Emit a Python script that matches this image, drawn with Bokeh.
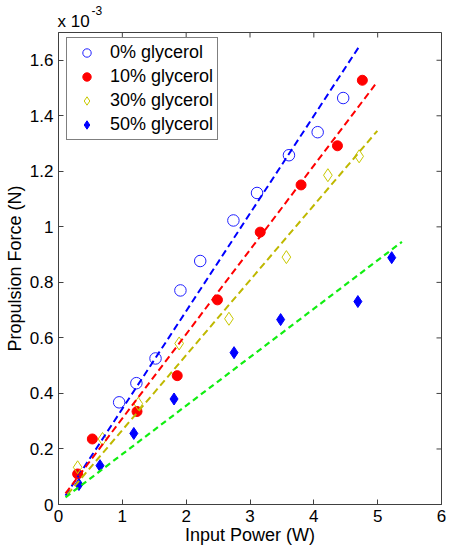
import math
from bokeh.plotting import figure
from bokeh.models import (Range1d, FixedTicker, CustomJSTickFormatter,
                          Legend, LegendItem, Title)
from bokeh.embed import file_html
from bokeh.resources import INLINE

# ---- data (force values in units of 1e-3 N) ----
power_0 = [0.95, 1.22, 1.52, 1.91, 2.22, 2.74, 3.11, 3.61, 4.06, 4.46]
force_0 = [0.368, 0.437, 0.526, 0.771, 0.877, 1.023, 1.122, 1.258, 1.341, 1.464]

power_10 = [0.30, 0.53, 1.23, 1.86, 2.49, 3.16, 3.80, 4.37, 4.76]
force_10 = [0.110, 0.236, 0.335, 0.464, 0.737, 0.981, 1.151, 1.292, 1.528]

power_30 = [0.30, 0.69, 1.25, 1.89, 2.67, 3.57, 4.22, 4.71]
force_30 = [0.134, 0.236, 0.363, 0.580, 0.669, 0.891, 1.186, 1.254]

power_50 = [0.32, 0.65, 1.18, 1.81, 2.75, 3.48, 4.69, 5.22]
force_50 = [0.072, 0.140, 0.256, 0.380, 0.547, 0.666, 0.731, 0.889]

# linear fit lines (end points)
fit_0_x = [0.11, 4.70]
fit_0_y = [0.032, 1.646]
fit_10_x = [0.11, 4.96]
fit_10_y = [0.040, 1.512]
fit_30_x = [0.14, 4.995]
fit_30_y = [0.036, 1.346]
fit_50_x = [0.11, 5.38]
fit_50_y = [0.026, 0.946]

labels = ["0% glycerol", "10% glycerol", "30% glycerol", "50% glycerol"]
x_ticks = [0, 1, 2, 3, 4, 5, 6]
y_ticks = [0, 0.2, 0.4, 0.6, 0.8, 1.0, 1.2, 1.4, 1.6]
x_lim = [0, 6]
y_lim = [0, 1.7]

FONT = "Liberation Sans"
AX = "#404040"

p = figure(width=450, height=550, min_border_left=58, min_border_right=9,
           min_border_top=32, min_border_bottom=46,
           x_range=Range1d(*x_lim), y_range=Range1d(*y_lim),
           output_backend="svg", toolbar_location=None,
           x_axis_label="Input Power (W)", y_axis_label="Propulsion Force (N)")
p.xgrid.visible = False
p.ygrid.visible = False
p.outline_line_color = AX
p.outline_line_width = 1
p.background_fill_color = "white"
p.border_fill_color = "white"

ytick_fmt = CustomJSTickFormatter(code="return tick.toFixed(1).replace(/\\.0$/, '');")


def style(ax, ticks):
    ax.ticker = FixedTicker(ticks=ticks)
    ax.axis_line_color = AX
    ax.axis_line_width = 1
    ax.major_tick_line_color = AX
    ax.major_tick_in = 5
    ax.major_tick_out = 0
    ax.minor_tick_line_color = None
    ax.major_label_text_font = FONT
    ax.major_label_text_color = "black"
    ax.major_label_text_font_size = "17px"
    ax.axis_label_text_font = FONT
    ax.axis_label_text_font_style = "normal"
    ax.axis_label_text_font_size = "18px"
    ax.axis_label_text_color = "black"


style(p.xaxis[0], x_ticks)
p.xaxis[0].major_label_standoff = 5
p.xaxis[0].axis_label_standoff = 0
style(p.yaxis[0], y_ticks)
p.yaxis[0].formatter = ytick_fmt
p.yaxis[0].major_label_standoff = 5
p.yaxis[0].axis_label_standoff = 2

# inward ticks on the top and right edges of the box (half of each dash is clipped)
p.scatter(x_ticks, [y_lim[1]] * len(x_ticks), marker="dash", angle=math.pi / 2,
          size=10, line_color=AX, line_width=1)
p.scatter([x_lim[1]] * len(y_ticks), y_ticks, marker="dash",
          size=10, line_color=AX, line_width=1)

# ---- markers ----
r0 = p.scatter(power_0, force_0, marker="circle", size=11.5, fill_color=None,
               line_color="#2020FF", line_width=1)
r10 = p.scatter(power_10, force_10, marker="circle", size=10, fill_color="#FF0000",
                line_color="#FF0000", line_width=1)
r30 = p.scatter(power_30, force_30, marker="diamond", size=13, fill_color=None,
                line_color="#C8C800", line_width=1)
r50 = p.scatter(power_50, force_50, marker="diamond", size=12, fill_color="#0000FF",
                line_color="#0000FF", line_width=1)

# ---- fit lines ----
p.line(fit_0_x, fit_0_y, line_color="#0000FF", line_width=2, line_dash="7 4")
p.line(fit_10_x, fit_10_y, line_color="#FF0000", line_width=2, line_dash="7 4")
p.line(fit_30_x, fit_30_y, line_color="#BFB800", line_width=2, line_dash="7 4")
p.line(fit_50_x, fit_50_y, line_color="#11EE11", line_width=2.2, line_dash="6 4")

legend = Legend(items=[LegendItem(label=labels[0], renderers=[r0]),
                       LegendItem(label=labels[1], renderers=[r10]),
                       LegendItem(label=labels[2], renderers=[r30]),
                       LegendItem(label=labels[3], renderers=[r50])],
                location=(8, 364))
legend.border_line_color = "black"
legend.border_line_width = 1
legend.background_fill_color = "white"
legend.background_fill_alpha = 1
legend.label_text_font = FONT
legend.label_text_font_size = "18px"
legend.label_text_color = "black"
legend.padding = 4
legend.spacing = 3
legend.glyph_width = 31
legend.glyph_height = 21
legend.label_height = 21
legend.label_standoff = 8
legend.margin = 0
p.add_layout(legend)

# ---- exponent label above the axes:  x 10^-3 ----
p.add_layout(Title(text="x 10", align="left", offset=-1, standoff=4,
                   text_font=FONT, text_font_size="17px", text_font_style="normal",
                   text_color="black"), "above")
p.add_layout(Title(text="-3", align="left", offset=33, standoff=-14,
                   text_font=FONT, text_font_size="12px", text_font_style="normal",
                   text_color="black"), "above")

open("out.html", "w").write(file_html(p, INLINE))
